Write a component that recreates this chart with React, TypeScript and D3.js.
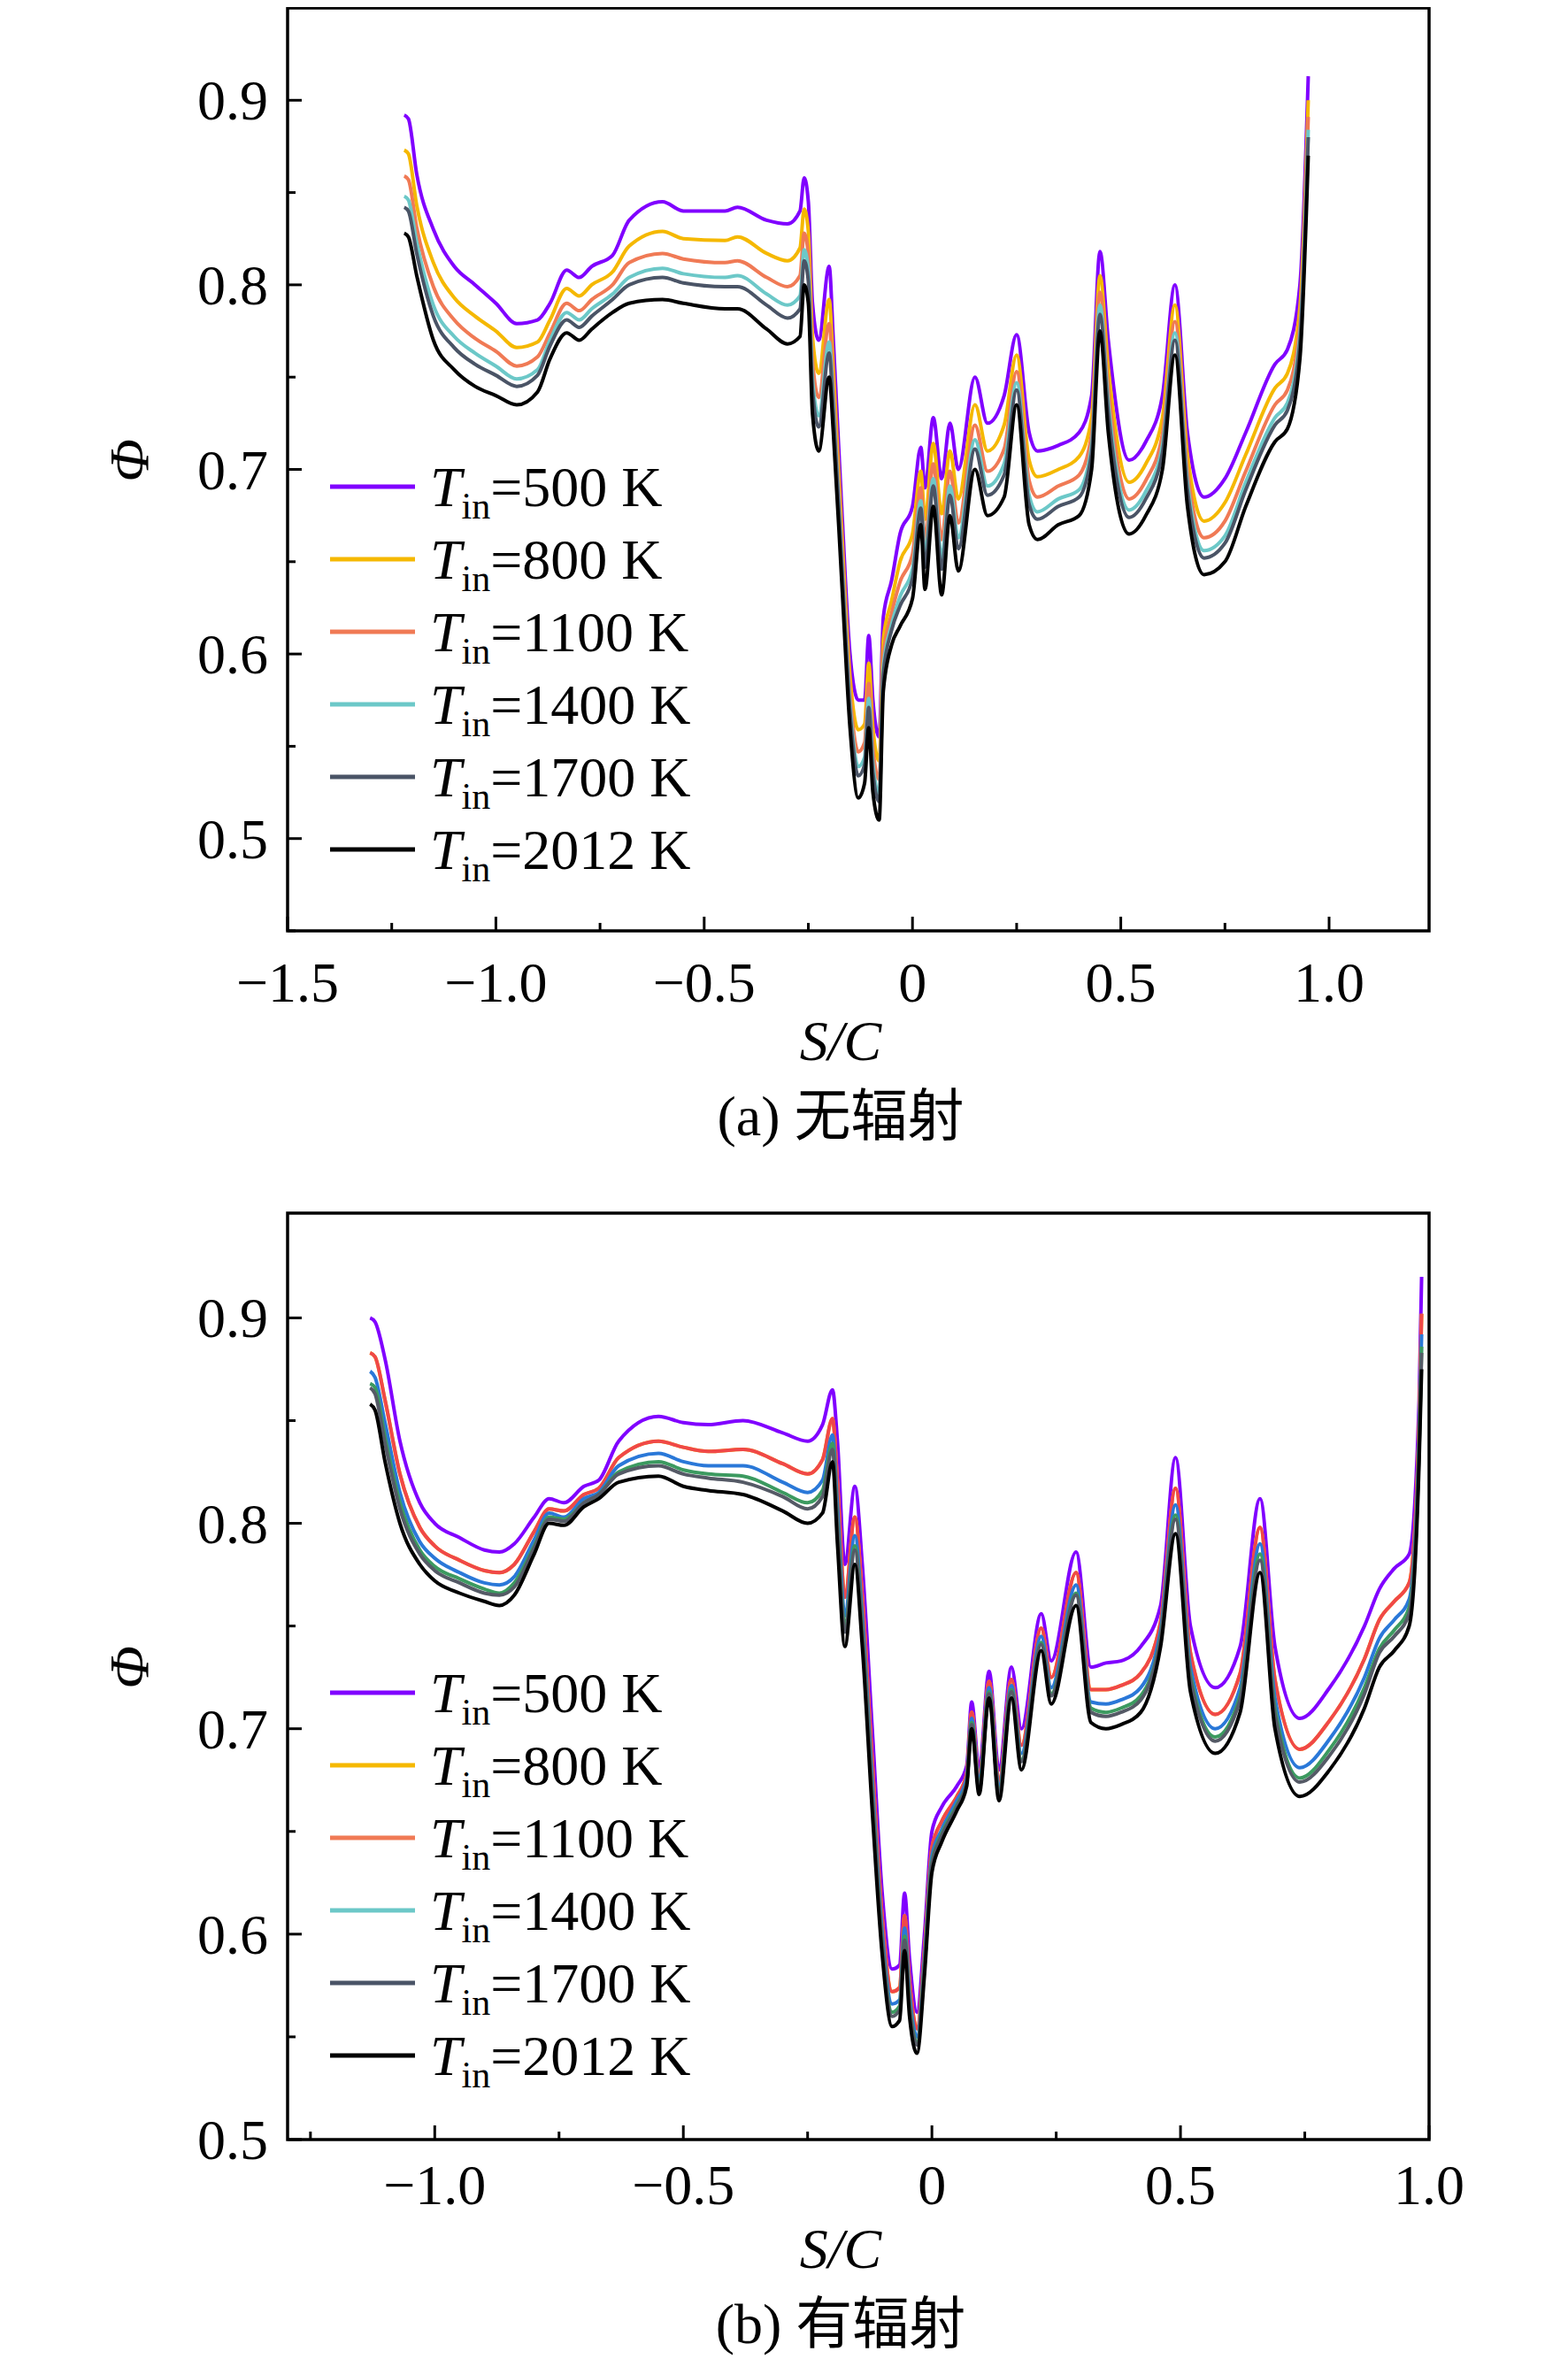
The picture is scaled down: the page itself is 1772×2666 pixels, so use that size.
import React from "react";
import * as d3 from "d3";

const seriesNames = ["500", "800", "1100", "1400", "1700", "2012"];
const legendColors = ["#8000ff", "#f5b800", "#f07a55", "#6cc8c8", "#4a5466", "#000000"];
const bottomColors = ["#8000ff", "#f5b800", "#f04848", "#2a78d8", "#3c9a60", "#555a66", "#000000"];

const topX = [-1.22,-1.21,-1.19,-1.15,-1.1,-1.05,-1.0,-0.95,-0.9,-0.87,-0.83,-0.8,-0.77,-0.72,-0.68,-0.6,-0.55,-0.45,-0.42,-0.35,-0.3,-0.27,-0.26,-0.25,-0.24,-0.225,-0.2,-0.19,-0.17,-0.15,-0.13,-0.115,-0.105,-0.095,-0.08,-0.07,-0.05,-0.03,0,0.02,0.03,0.05,0.07,0.09,0.11,0.15,0.18,0.22,0.25,0.28,0.3,0.35,0.4,0.43,0.45,0.47,0.52,0.56,0.6,0.63,0.66,0.7,0.75,0.8,0.87,0.9,0.93,0.95];
const top500 = [.892,.890,.860,.830,.810,.800,.790,.779,.781,.790,.808,.804,.810,.816,.835,.845,.840,.840,.842,.835,.833,.840,.858,.845,.790,.770,.810,.770,.680,.600,.575,.575,.610,.575,.555,.620,.640,.665,.680,.712,.690,.728,.695,.725,.700,.750,.725,.740,.773,.720,.710,.713,.720,.740,.818,.770,.705,.715,.740,.800,.720,.685,.695,.720,.757,.765,.800,.913];
const top800 = [.873,.871,.843,.812,.793,.783,.775,.766,.769,.781,.798,.794,.800,.807,.821,.829,.825,.824,.826,.817,.813,.820,.841,.829,.772,.752,.792,.755,.668,.588,.559,.562,.595,.560,.542,.608,.629,.650,.665,.699,.673,.714,.676,.710,.684,.735,.710,.724,.762,.705,.696,.700,.707,.728,.805,.755,.693,.703,.728,.789,.708,.672,.682,.708,.744,.752,.788,.900];
const top1100 = [.859,.857,.831,.799,.781,.771,.764,.756,.761,.774,.790,.786,.792,.800,.812,.817,.814,.812,.813,.804,.799,.805,.828,.816,.759,.739,.779,.744,.659,.579,.547,.552,.584,.549,.532,.599,.622,.639,.654,.690,.661,.703,.662,.699,.671,.724,.699,.711,.753,.694,.685,.691,.697,.719,.796,.744,.684,.694,.719,.780,.699,.663,.672,.699,.735,.743,.779,.891];
const top1400 = [.848,.846,.823,.789,.772,.763,.756,.749,.754,.770,.785,.781,.787,.795,.804,.809,.806,.804,.805,.795,.789,.794,.819,.808,.749,.729,.769,.736,.653,.573,.539,.544,.576,.541,.524,.593,.616,.631,.646,.683,.653,.695,.652,.691,.663,.716,.691,.703,.747,.686,.677,.684,.689,.713,.789,.736,.678,.688,.713,.774,.693,.656,.664,.693,.728,.736,.773,.884];
const top1700 = [.842,.840,.817,.783,.766,.757,.751,.745,.751,.767,.781,.777,.783,.792,.800,.804,.801,.799,.799,.789,.782,.787,.813,.802,.743,.723,.763,.731,.649,.569,.534,.540,.571,.536,.520,.589,.613,.626,.641,.679,.647,.691,.646,.686,.657,.711,.686,.697,.743,.681,.673,.680,.685,.709,.784,.731,.674,.684,.709,.770,.689,.652,.660,.689,.724,.732,.769,.880];
const top2012 = [.828,.826,.805,.770,.754,.745,.740,.735,.742,.760,.774,.770,.776,.785,.790,.792,.790,.787,.787,.776,.768,.772,.800,.790,.730,.710,.750,.720,.640,.560,.522,.530,.560,.525,.510,.580,.605,.615,.630,.670,.635,.680,.632,.675,.645,.700,.675,.685,.735,.670,.662,.670,.675,.700,.775,.720,.665,.675,.700,.762,.680,.643,.650,.680,.715,.722,.760,.870];

const botX = [-1.13,-1.12,-1.10,-1.07,-1.03,-1.0,-0.95,-0.9,-0.87,-0.84,-0.80,-0.77,-0.74,-0.70,-0.67,-0.63,-0.55,-0.5,-0.45,-0.38,-0.30,-0.25,-0.22,-0.20,-0.19,-0.175,-0.155,-0.14,-0.12,-0.10,-0.08,-0.065,-0.055,-0.045,-0.03,-0.015,0,0.02,0.05,0.07,0.08,0.095,0.115,0.135,0.16,0.18,0.22,0.24,0.29,0.32,0.35,0.38,0.42,0.46,0.49,0.52,0.57,0.62,0.66,0.69,0.74,0.8,0.87,0.9,0.93,0.96,0.98,0.985];
const bot500 = [.900,.898,.880,.840,.810,.800,.793,.787,.786,.790,.803,.812,.810,.818,.821,.840,.852,.849,.848,.850,.844,.840,.848,.865,.840,.780,.818,.780,.700,.620,.583,.585,.620,.588,.562,.600,.650,.662,.672,.682,.713,.680,.728,.680,.730,.700,.756,.733,.786,.730,.732,.733,.740,.760,.832,.750,.720,.740,.812,.740,.705,.720,.750,.768,.778,.785,.860,.920];
const bot800 = [.883,.881,.860,.824,.798,.789,.782,.777,.776,.780,.796,.807,.806,.814,.817,.832,.840,.837,.835,.836,.829,.824,.831,.851,.820,.764,.803,.764,.684,.608,.572,.574,.609,.577,.554,.592,.642,.655,.667,.678,.708,.675,.723,.674,.724,.692,.749,.725,.776,.719,.719,.721,.727,.752,.817,.737,.707,.727,.798,.724,.690,.704,.734,.753,.762,.771,.848,.902];
const bot1100 = [.883,.881,.860,.824,.798,.789,.782,.777,.776,.780,.796,.807,.806,.814,.817,.832,.840,.837,.835,.836,.829,.824,.831,.851,.820,.764,.803,.764,.684,.608,.572,.574,.609,.577,.554,.592,.642,.655,.667,.678,.708,.675,.723,.674,.724,.692,.749,.725,.776,.719,.719,.721,.727,.752,.817,.737,.707,.727,.798,.724,.690,.704,.734,.753,.762,.771,.848,.902];
const bot1400 = [.874,.871,.849,.815,.791,.783,.776,.771,.770,.774,.792,.805,.803,.812,.815,.828,.834,.830,.828,.828,.820,.815,.821,.843,.809,.755,.794,.755,.675,.601,.566,.568,.603,.571,.550,.588,.638,.651,.665,.676,.705,.673,.720,.671,.721,.688,.745,.720,.770,.713,.712,.714,.720,.748,.809,.730,.700,.720,.790,.715,.681,.695,.725,.744,.753,.763,.841,.892];
const bot1700a = [.868,.866,.842,.810,.787,.779,.773,.768,.766,.771,.789,.803,.802,.810,.814,.825,.830,.826,.824,.823,.815,.810,.816,.839,.802,.750,.789,.750,.670,.597,.562,.565,.599,.567,.547,.585,.635,.649,.663,.674,.703,.671,.718,.669,.719,.685,.742,.717,.766,.710,.708,.710,.716,.745,.804,.726,.696,.716,.785,.710,.676,.690,.720,.739,.748,.759,.837,.886];
const bot1700b = [.866,.863,.839,.807,.785,.777,.771,.766,.765,.769,.788,.802,.801,.810,.814,.824,.828,.824,.822,.820,.813,.807,.813,.836,.799,.747,.787,.747,.667,.595,.560,.563,.597,.565,.546,.584,.634,.648,.662,.674,.702,.670,.717,.668,.718,.684,.741,.716,.765,.708,.706,.708,.714,.744,.802,.724,.694,.714,.782,.707,.674,.687,.717,.737,.745,.756,.835,.883];
const bot2012 = [.858,.855,.830,.800,.780,.772,.766,.762,.760,.765,.785,.800,.799,.808,.812,.820,.823,.818,.816,.814,.806,.800,.805,.830,.790,.740,.780,.740,.660,.590,.555,.558,.592,.560,.542,.580,.630,.645,.660,.672,.700,.668,.715,.665,.715,.680,.738,.712,.760,.703,.700,.702,.708,.740,.795,.718,.688,.708,.776,.700,.667,.680,.710,.730,.738,.750,.830,.875];

const topXTicks = [-1.5, -1.0, -0.5, 0, 0.5, 1.0];
const botXTicks = [-1.0, -0.5, 0, 0.5, 1.0];
const yTicks = [0.5, 0.6, 0.7, 0.8, 0.9];

const FONT = "'Liberation Serif', 'Times New Roman', serif";
const CJK = "'Noto Sans CJK SC', sans-serif";

function fmt(v: number) {
  if (v === 0) return "0";
  const s = Math.abs(v).toFixed(1);
  return (v < 0 ? "\u2212" : "") + s;
}

type PanelProps = {
  top: number; bottom: number; xDomain: [number, number]; yDomain: [number, number];
  xTicks: number[]; xMinor: number[]; yMinor: number[]; xs: number[]; ys: number[][]; colors: string[];
  legendY0: number; caption: string; xLabelY: number; scY: number; capY: number;
};

function Panel(p: PanelProps) {
  const L = 317, R = 1607;
  const x = d3.scaleLinear().domain(p.xDomain).range([L, R]);
  const y = d3.scaleLinear().domain(p.yDomain).range([p.bottom, p.top]);
  const line = d3.line<number>().x((_, i) => x(p.xs[i])).y((d) => y(d)).curve(d3.curveMonotoneX);
  const yMid = (p.top + p.bottom) / 2;
  return (
    <g>
      {p.ys.map((s, i) => (
        <path key={i} d={line(s) || ""} fill="none" stroke={p.colors[i]} strokeWidth={4} strokeLinejoin="round" />
      ))}
      <rect x={L} y={p.top} width={R - L} height={p.bottom - p.top} fill="none" stroke="#000" strokeWidth={3.5} />
      {p.xTicks.map((t) => (
        <g key={t}>
          <line x1={x(t)} x2={x(t)} y1={p.bottom} y2={p.bottom - 16} stroke="#000" strokeWidth={3} />
          <text x={x(t)} y={p.xLabelY} textAnchor="middle" fontFamily={FONT} fontSize={64}>{fmt(t)}</text>
        </g>
      ))}
      {p.xMinor.map((t) => (
        <line key={t} x1={x(t)} x2={x(t)} y1={p.bottom} y2={p.bottom - 9} stroke="#000" strokeWidth={3} />
      ))}
      {yTicks.map((t) => (
        <g key={t}>
          <line x1={L} x2={L + 16} y1={y(t)} y2={y(t)} stroke="#000" strokeWidth={3} />
          <text x={L - 22} y={y(t) + 22} textAnchor="end" fontFamily={FONT} fontSize={64}>{t.toFixed(1)}</text>
        </g>
      ))}
      {p.yMinor.map((t) => (
        <line key={t} x1={L} x2={L + 9} y1={y(t)} y2={y(t)} stroke="#000" strokeWidth={3} />
      ))}
      <text transform={`translate(160,${yMid - 10}) rotate(-90)`} textAnchor="middle" fontFamily={FONT} fontSize={64} fontStyle="italic">Φ</text>
      <text x={(L + R) / 2 - 20} y={p.scY} textAnchor="middle" fontFamily={FONT} fontSize={64} fontStyle="italic">S/C</text>
      <text x={(L + R) / 2 - 20} y={p.capY} textAnchor="middle" fontSize={64}>
        <tspan fontFamily={FONT}>{p.caption.split(" ")[0]} </tspan>
        <tspan fontFamily={CJK}>{p.caption.split(" ")[1]}</tspan>
      </text>
      {seriesNames.map((n, i) => {
        const ly = p.legendY0 + i * 82;
        return (
          <g key={n}>
            <line x1={365} x2={461} y1={ly} y2={ly} stroke={legendColors[i]} strokeWidth={5} />
            <text x={478} y={ly + 22} fontFamily={FONT} fontSize={64}>
              <tspan fontStyle="italic">T</tspan>
              <tspan fontSize={42} dy={14}>in</tspan>
              <tspan dy={-14}>={n} K</tspan>
            </text>
          </g>
        );
      })}
    </g>
  );
}

export default function App() {
  return (
    <svg width={1772} height={2666} style={{ display: "block", background: "#fff" }}>
      <Panel top={1} bottom={1044} xDomain={[-1.5, 1.24]} yDomain={[0.45, 0.95]}
        xTicks={topXTicks} xMinor={[-1.25, -0.75, -0.25, 0.25, 0.75]} yMinor={[0.45, 0.55, 0.65, 0.75, 0.85]}
        xs={topX} ys={[top500, top800, top1100, top1400, top1700, top2012]} colors={legendColors}
        legendY0={542} caption="(a) 无辐射" xLabelY={1124} scY={1190} capY={1275} />
      <Panel top={1363} bottom={2410} xDomain={[-1.296, 1.0]} yDomain={[0.5, 0.951]}
        xTicks={botXTicks} xMinor={[-1.25, -0.75, -0.25, 0.25, 0.75]} yMinor={[0.55, 0.65, 0.75, 0.85]}
        xs={botX} ys={[bot500, bot800, bot1100, bot1400, bot1700a, bot1700b, bot2012]} colors={bottomColors}
        legendY0={1905} caption="(b) 有辐射" xLabelY={2483} scY={2555} capY={2640} />
    </svg>
  );
}
